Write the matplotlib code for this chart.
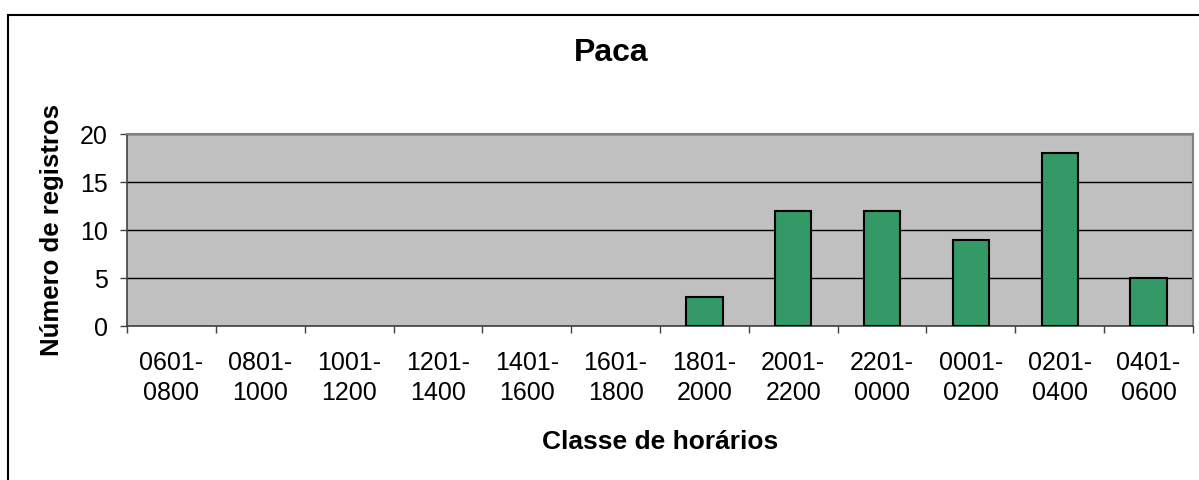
import numpy as np
import matplotlib
matplotlib.use("Agg")
import matplotlib.pyplot as plt
from matplotlib.patches import Rectangle

# Dados do gráfico
classes = ["0601-\n0800", "0801-\n1000", "1001-\n1200", "1201-\n1400",
           "1401-\n1600", "1601-\n1800", "1801-\n2000", "2001-\n2200",
           "2201-\n0000", "0001-\n0200", "0201-\n0400", "0401-\n0600"]
registros = [0, 0, 0, 0, 0, 0, 3, 12, 12, 9, 18, 5]
y_ticks = [0, 5, 10, 15, 20]

plt.rcParams['font.family'] = ['Liberation Sans', 'DejaVu Sans']

fig = plt.figure(figsize=(11.99, 4.8), dpi=100)
ax = fig.add_axes([127/1199, 1 - 326/480, (1193 - 127)/1199, (326 - 134)/480])

x = np.arange(len(classes))
larg_borda = [1.5 if v > 0 else 0 for v in registros]
ax.bar(x, registros, width=0.41, color='#339966', edgecolor='black', linewidth=larg_borda, zorder=3)

ax.set_facecolor('#C0C0C0')
ax.set_xlim(-0.5, len(classes) - 0.5)
ax.set_ylim(0, 20)
ax.set_yticks(y_ticks)
ax.set_axisbelow(True)
ax.yaxis.grid(True, color='black', linewidth=1)

# rótulos no centro, marcas nos limites das classes
ax.set_xticks(x)
ax.set_xticklabels(classes, fontsize=18, linespacing=1.3)
ax.set_xticks(np.arange(-0.5, len(classes) + 0.5, 1), minor=True)
ax.tick_params(axis='x', which='major', length=0, pad=18)
ax.tick_params(axis='x', which='minor', length=5, width=1, color='#404040')
ax.tick_params(axis='y', length=5, width=1, color='#404040', labelsize=18, pad=9)

for s in ['left', 'bottom']:
    ax.spines[s].set_color('#404040')
    ax.spines[s].set_linewidth(1.2)
for s in ['top', 'right']:
    ax.spines[s].set_color('#808080')
    ax.spines[s].set_linewidth(1.5)

ax.set_ylabel('Número de registros', fontsize=18.5, fontweight='bold')
ax.yaxis.label.set_va('center')
ax.yaxis.set_label_coords((52 - 127) / (1193 - 127), 0.5)

ax.set_xlabel('Classe de horários', fontsize=19, fontweight='bold')
ax.xaxis.label.set_va('center')
ax.xaxis.set_label_coords(0.5, -(442 - 326) / (326 - 134))

fig.text(611/1199, 1 - 53/480, 'Paca', fontsize=23, fontweight='bold', ha='center', va='center')

# moldura do gráfico
fig.patches.append(Rectangle((8/1199, -0.1), 1.1, 1.1 - 15/480, transform=fig.transFigure,
                             fill=False, edgecolor='black', linewidth=1.5))

fig.savefig('out.png', dpi=100)
